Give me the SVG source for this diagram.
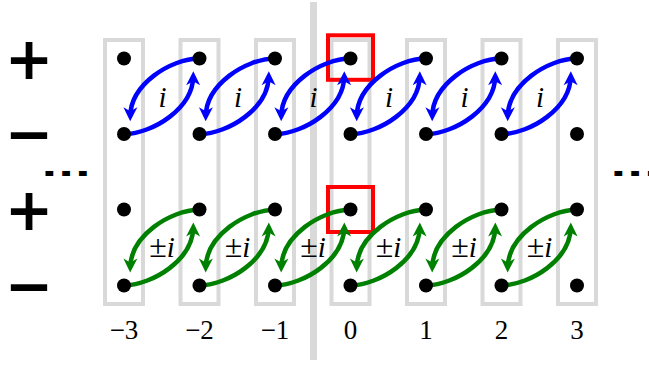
<svg xmlns="http://www.w3.org/2000/svg" width="649" height="365" viewBox="0 0 649 365">
<style>
.col{fill:none;stroke:#d9d9d9;stroke-width:4}
.red{fill:none;stroke:#ff0000;stroke-width:4}
.dot{fill:#000}
.b{fill:none;stroke:#0000ff;stroke-width:4.5;marker-end:url(#ab)}
.g{fill:none;stroke:#008000;stroke-width:4.5;marker-end:url(#ag)}
.lab{font-family:"Liberation Serif",serif;font-size:29px;fill:#000;text-anchor:middle}
.it{font-style:italic}
.num{font-family:"Liberation Serif",serif;font-size:27px;fill:#000;text-anchor:middle}
.sign{font-family:"DejaVu Sans",sans-serif;font-weight:bold;font-size:58px;fill:#000;text-anchor:middle}
.ell{font-family:"DejaVu Sans",sans-serif;font-weight:bold;font-size:44px;fill:#000}
</style>
<defs>
<marker id="ab" markerUnits="userSpaceOnUse" markerWidth="20" markerHeight="20" refX="0" refY="0" orient="auto" overflow="visible">
<path d="M5,0 L-9,-7 L-5,0 L-9,7 Z" fill="#0000ff"/>
</marker>
<marker id="ag" markerUnits="userSpaceOnUse" markerWidth="20" markerHeight="20" refX="0" refY="0" orient="auto" overflow="visible">
<path d="M5,0 L-9,-7 L-5,0 L-9,7 Z" fill="#008000"/>
</marker>
</defs>

<rect x="310" y="2" width="7" height="358" fill="#d9d9d9"/>

<g id="columns">
<rect class="col" x="105" y="40" width="38" height="264"/>
<rect class="col" x="180.5" y="40" width="38" height="264"/>
<rect class="col" x="256" y="40" width="38" height="264"/>
<rect class="col" x="331.5" y="40" width="38" height="264"/>
<rect class="col" x="407" y="40" width="38" height="264"/>
<rect class="col" x="482.5" y="40" width="38" height="264"/>
<rect class="col" x="558" y="40" width="38" height="264"/>
</g>

<g id="highlights">
<rect class="red" x="328" y="35.3" width="45" height="44.5"/>
<rect class="red" x="328" y="187" width="45" height="45"/>
</g>

<g id="connectors">
<g transform="translate(161.75,96.25)"><path class="b" d="M37.75,-38 C8,-37 -31,-12 -31.5,20"/><path class="b" d="M-37.75,38 C-8,37 31,12 31.5,-20"/></g>
<g transform="translate(237.25,96.25)"><path class="b" d="M37.75,-38 C8,-37 -31,-12 -31.5,20"/><path class="b" d="M-37.75,38 C-8,37 31,12 31.5,-20"/></g>
<g transform="translate(312.75,96.25)"><path class="b" d="M37.75,-38 C8,-37 -31,-12 -31.5,20"/><path class="b" d="M-37.75,38 C-8,37 31,12 31.5,-20"/></g>
<g transform="translate(388.25,96.25)"><path class="b" d="M37.75,-38 C8,-37 -31,-12 -31.5,20"/><path class="b" d="M-37.75,38 C-8,37 31,12 31.5,-20"/></g>
<g transform="translate(463.75,96.25)"><path class="b" d="M37.75,-38 C8,-37 -31,-12 -31.5,20"/><path class="b" d="M-37.75,38 C-8,37 31,12 31.5,-20"/></g>
<g transform="translate(539.25,96.25)"><path class="b" d="M37.75,-38 C8,-37 -31,-12 -31.5,20"/><path class="b" d="M-37.75,38 C-8,37 31,12 31.5,-20"/></g>
<g transform="translate(161.75,247.5)"><path class="g" d="M37.75,-38 C8,-37 -31,-12 -31.5,20"/><path class="g" d="M-37.75,38 C-8,37 31,12 31.5,-20"/></g>
<g transform="translate(237.25,247.5)"><path class="g" d="M37.75,-38 C8,-37 -31,-12 -31.5,20"/><path class="g" d="M-37.75,38 C-8,37 31,12 31.5,-20"/></g>
<g transform="translate(312.75,247.5)"><path class="g" d="M37.75,-38 C8,-37 -31,-12 -31.5,20"/><path class="g" d="M-37.75,38 C-8,37 31,12 31.5,-20"/></g>
<g transform="translate(388.25,247.5)"><path class="g" d="M37.75,-38 C8,-37 -31,-12 -31.5,20"/><path class="g" d="M-37.75,38 C-8,37 31,12 31.5,-20"/></g>
<g transform="translate(463.75,247.5)"><path class="g" d="M37.75,-38 C8,-37 -31,-12 -31.5,20"/><path class="g" d="M-37.75,38 C-8,37 31,12 31.5,-20"/></g>
<g transform="translate(539.25,247.5)"><path class="g" d="M37.75,-38 C8,-37 -31,-12 -31.5,20"/><path class="g" d="M-37.75,38 C-8,37 31,12 31.5,-20"/></g>
</g>

<g id="col-m3"><circle class="dot" cx="124" cy="58.5" r="7"/><circle class="dot" cx="124" cy="134" r="7"/><circle class="dot" cx="124" cy="209.5" r="7"/><circle class="dot" cx="124" cy="285.5" r="7"/></g>
<g id="col-m2"><circle class="dot" cx="199.5" cy="58.5" r="7"/><circle class="dot" cx="199.5" cy="134" r="7"/><circle class="dot" cx="199.5" cy="209.5" r="7"/><circle class="dot" cx="199.5" cy="285.5" r="7"/></g>
<g id="col-m1"><circle class="dot" cx="275" cy="58.5" r="7"/><circle class="dot" cx="275" cy="134" r="7"/><circle class="dot" cx="275" cy="209.5" r="7"/><circle class="dot" cx="275" cy="285.5" r="7"/></g>
<g id="col-0"><circle class="dot" cx="350.5" cy="58.5" r="7"/><circle class="dot" cx="350.5" cy="134" r="7"/><circle class="dot" cx="350.5" cy="209.5" r="7"/><circle class="dot" cx="350.5" cy="285.5" r="7"/></g>
<g id="col-1"><circle class="dot" cx="426" cy="58.5" r="7"/><circle class="dot" cx="426" cy="134" r="7"/><circle class="dot" cx="426" cy="209.5" r="7"/><circle class="dot" cx="426" cy="285.5" r="7"/></g>
<g id="col-2"><circle class="dot" cx="501.5" cy="58.5" r="7"/><circle class="dot" cx="501.5" cy="134" r="7"/><circle class="dot" cx="501.5" cy="209.5" r="7"/><circle class="dot" cx="501.5" cy="285.5" r="7"/></g>
<g id="col-3"><circle class="dot" cx="577" cy="58.5" r="7"/><circle class="dot" cx="577" cy="134" r="7"/><circle class="dot" cx="577" cy="209.5" r="7"/><circle class="dot" cx="577" cy="285.5" r="7"/></g>

<g id="edge-labels">
<text class="lab it" x="162.5" y="107">i</text>
<text class="lab it" x="238" y="107">i</text>
<text class="lab it" x="313.5" y="107">i</text>
<text class="lab it" x="389" y="107">i</text>
<text class="lab it" x="464.5" y="107">i</text>
<text class="lab it" x="540" y="107">i</text>
<text class="lab" x="162" y="257"><tspan font-size="32">±</tspan><tspan class="it">i</tspan></text>
<text class="lab" x="237.5" y="257"><tspan font-size="32">±</tspan><tspan class="it">i</tspan></text>
<text class="lab" x="313" y="257"><tspan font-size="32">±</tspan><tspan class="it">i</tspan></text>
<text class="lab" x="388.5" y="257"><tspan font-size="32">±</tspan><tspan class="it">i</tspan></text>
<text class="lab" x="464" y="257"><tspan font-size="32">±</tspan><tspan class="it">i</tspan></text>
<text class="lab" x="539.5" y="257"><tspan font-size="32">±</tspan><tspan class="it">i</tspan></text>
</g>

<g id="signs">
<text class="sign" x="29" y="79">+</text>
<text class="sign" x="29" y="154">−</text>
<text class="sign" x="29" y="230">+</text>
<text class="sign" x="29" y="306">−</text>
</g>

<g id="ellipses">
<text class="ell" transform="translate(41,176) scale(1,0.6)">...</text>
<text class="ell" transform="translate(610,176) scale(1,0.6)">...</text>
</g>

<g id="indices">
<text class="num" x="124" y="339">−3</text>
<text class="num" x="199.5" y="339">−2</text>
<text class="num" x="275" y="339">−1</text>
<text class="num" x="350.5" y="339">0</text>
<text class="num" x="426" y="339">1</text>
<text class="num" x="501.5" y="339">2</text>
<text class="num" x="577" y="339">3</text>
</g>
</svg>
